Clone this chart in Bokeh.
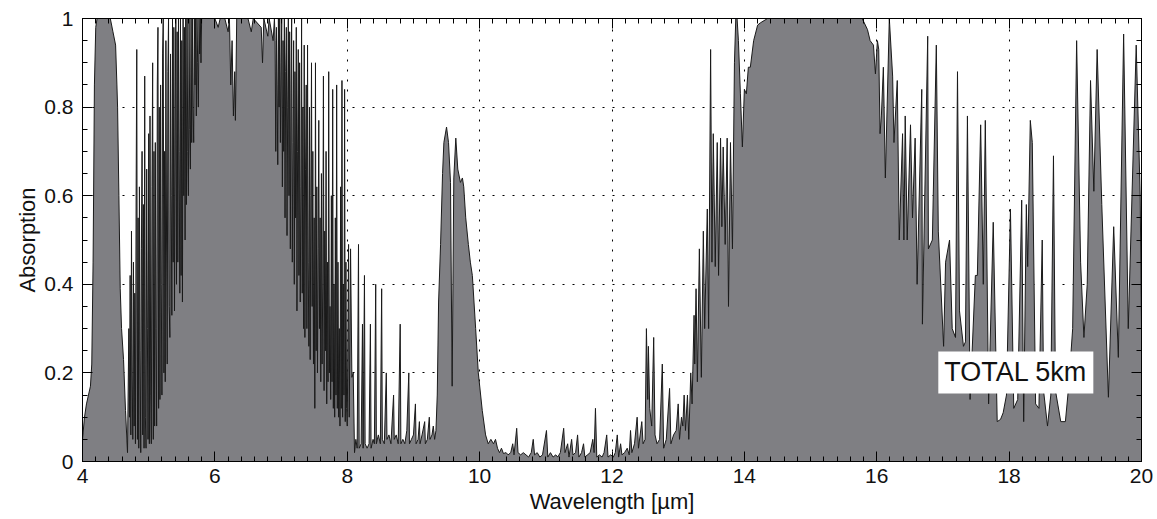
from bokeh.plotting import figure
from bokeh.models import (LinearAxis, Label, Range1d, SingleIntervalTicker,
                          CustomJSTickFormatter, ColumnDataSource)
from bokeh.embed import file_html
from bokeh.resources import INLINE

# ---- data (wavelength in um, absorption 0..1) ----
wl_co2_43 = [4.00, 4.03, 4.06, 4.09, 4.12, 4.14, 4.16, 4.18, 4.20, 4.22, 4.30, 4.40,
             4.42, 4.46, 4.50, 4.52, 4.53, 4.55, 4.57, 4.59, 4.62, 4.65, 4.68]
ab_co2_43 = [0.05, 0.10, 0.13, 0.15, 0.17, 0.22, 0.45, 0.85, 0.98, 1.00, 1.00, 1.00,
             1.00, 0.97, 0.94, 0.85, 0.80, 0.60, 0.39, 0.30, 0.23, 0.115, 0.02]

wl_h2o_a = [4.70, 4.71, 4.72, 4.73, 4.74, 4.75, 4.76, 4.77, 4.78, 4.79,
            4.80, 4.81, 4.82, 4.83, 4.84, 4.85, 4.86, 4.87, 4.88, 4.89,
            4.90, 4.91, 4.92, 4.93, 4.94, 4.95, 4.96, 4.97, 4.98, 4.99,
            5.00, 5.01, 5.02, 5.03, 5.04, 5.05, 5.06, 5.07, 5.08, 5.09,
            5.10, 5.11, 5.12, 5.13, 5.14, 5.15, 5.16, 5.17, 5.18, 5.19,
            5.20, 5.21, 5.22, 5.23, 5.24, 5.25, 5.26, 5.27, 5.28, 5.29,
            5.30, 5.31, 5.32, 5.33, 5.34, 5.35, 5.36, 5.37, 5.38, 5.39,
            5.40, 5.41, 5.42, 5.43, 5.44, 5.45, 5.46, 5.47, 5.48, 5.49,
            5.50, 5.51, 5.52, 5.53, 5.54, 5.55, 5.56, 5.57, 5.58, 5.59,
            5.60, 5.61, 5.62, 5.63, 5.64, 5.65, 5.66, 5.67, 5.68, 5.69,
            5.70, 5.71, 5.72, 5.73, 5.74, 5.75, 5.76, 5.77, 5.78, 5.79, 5.80]
ab_h2o_a = [0.30, 0.10, 0.42, 0.06, 0.52, 0.20, 0.05, 0.45, 0.08, 0.38,
            0.04, 0.60, 0.93, 0.05, 0.55, 0.03, 0.62, 0.25, 0.02, 0.48,
            0.70, 0.06, 0.58, 0.03, 0.87, 0.10, 0.03, 0.66, 0.30, 0.05,
            0.74, 0.04, 0.78, 0.15, 0.04, 0.62, 0.90, 0.05, 0.70, 0.08,
            0.72, 0.30, 0.08, 0.85, 0.98, 0.12, 0.80, 0.14, 0.85, 0.40,
            0.15, 0.92, 1.00, 0.20, 0.70, 0.18, 0.95, 0.50, 0.22, 0.88,
            1.00, 0.35, 0.28, 0.92, 0.60, 0.33, 1.00, 0.45, 0.98, 0.34,
            0.80, 1.00, 0.40, 0.97, 0.45, 1.00, 0.70, 0.38, 1.00, 0.42,
            0.95, 0.36, 1.00, 0.60, 0.98, 0.50, 1.00, 0.58, 1.00, 0.70,
            0.60, 1.00, 0.75, 0.66, 1.00, 0.72, 1.00, 0.80, 0.72, 1.00,
            0.85, 1.00, 0.78, 1.00, 0.90, 0.80, 1.00, 0.92, 1.00, 0.90, 1.00]

wl_h2o_b = [5.85, 6.00, 6.05, 6.08, 6.15, 6.20, 6.22, 6.24, 6.26, 6.28, 6.30, 6.31,
            6.33, 6.50, 6.55, 6.58, 6.70, 6.72, 6.74, 6.80, 6.82, 6.88]
ab_h2o_b = [1.00, 1.00, 0.98, 1.00, 1.00, 0.97, 1.00, 0.85, 0.95, 0.78, 0.88, 0.77,
            1.00, 1.00, 0.97, 1.00, 0.98, 0.90, 1.00, 0.96, 1.00, 0.95]

wl_h2o_c = [6.90, 6.91, 6.92, 6.93, 6.94, 6.95, 6.96, 6.97, 6.98, 6.99,
            7.00, 7.01, 7.02, 7.03, 7.04, 7.05, 7.06, 7.07, 7.08, 7.09,
            7.10, 7.11, 7.12, 7.13, 7.14, 7.15, 7.16, 7.17, 7.18, 7.19,
            7.20, 7.21, 7.22, 7.23, 7.24, 7.25, 7.26, 7.27, 7.28, 7.29,
            7.30, 7.31, 7.32, 7.33, 7.34, 7.35, 7.36, 7.37, 7.38, 7.39,
            7.40, 7.41, 7.42, 7.43, 7.44, 7.45, 7.46, 7.47, 7.48, 7.49,
            7.50, 7.51, 7.52, 7.53, 7.54, 7.55, 7.56, 7.57, 7.58, 7.59,
            7.60, 7.61, 7.62, 7.63, 7.64, 7.65, 7.66, 7.67, 7.68, 7.69,
            7.70, 7.71, 7.72, 7.73, 7.74, 7.75, 7.76, 7.77, 7.78, 7.79,
            7.80, 7.81, 7.82, 7.83, 7.84, 7.85, 7.86, 7.87, 7.88, 7.89,
            7.90, 7.91, 7.92, 7.93, 7.94, 7.95, 7.96, 7.97, 7.98, 7.99, 8.00]
ab_h2o_c = [1.00, 0.95, 0.70, 0.98, 0.85, 0.67, 1.00, 0.80, 1.00, 0.72,
            0.90, 1.00, 0.62, 0.95, 0.70, 1.00, 0.55, 0.88, 0.98, 0.51,
            0.80, 1.00, 0.60, 0.97, 0.48, 0.85, 1.00, 0.45, 0.72, 0.95,
            0.40, 0.88, 0.55, 0.98, 0.34, 0.70, 0.93, 0.42, 0.90, 0.36,
            0.62, 1.00, 0.38, 0.80, 0.30, 0.94, 0.28, 0.66, 0.85, 0.30,
            0.94, 0.45, 0.26, 0.80, 0.23, 0.60, 0.90, 0.35, 0.70, 0.22,
            0.55, 0.12, 0.90, 0.25, 0.62, 0.20, 0.48, 0.77, 0.30, 0.55,
            0.18, 0.65, 0.22, 0.40, 0.87, 0.16, 0.52, 0.25, 0.70, 0.13,
            0.45, 0.18, 0.88, 0.20, 0.35, 0.14, 0.60, 0.18, 0.84, 0.12,
            0.40, 0.10, 0.55, 0.15, 0.85, 0.12, 0.45, 0.10, 0.30, 0.08,
            0.62, 0.12, 0.86, 0.10, 0.40, 0.15, 0.84, 0.09, 0.45, 0.12, 0.08]

wl_window_8 = [8.02, 8.03, 8.05, 8.07, 8.09, 8.11, 8.13, 8.15, 8.17, 8.18, 8.21, 8.23,
               8.24, 8.26, 8.27, 8.30, 8.33, 8.35, 8.36, 8.39, 8.41, 8.43, 8.44, 8.47,
               8.50, 8.52, 8.53, 8.56, 8.59, 8.60, 8.63, 8.66, 8.70, 8.71, 8.74, 8.77,
               8.80, 8.81, 8.84, 8.87, 8.90, 8.93, 8.94, 8.97, 9.00, 9.03, 9.04, 9.07,
               9.09, 9.10, 9.13, 9.17, 9.18, 9.21, 9.24, 9.25, 9.28, 9.30, 9.32]
ab_window_8 = [0.49, 0.10, 0.48, 0.19, 0.20, 0.02, 0.05, 0.03, 0.49, 0.03, 0.04, 0.31,
               0.03, 0.42, 0.04, 0.03, 0.04, 0.31, 0.03, 0.05, 0.04, 0.40, 0.04, 0.06,
               0.04, 0.39, 0.05, 0.04, 0.20, 0.05, 0.06, 0.04, 0.15, 0.05, 0.06, 0.04,
               0.31, 0.04, 0.05, 0.04, 0.07, 0.20, 0.04, 0.05, 0.06, 0.13, 0.04, 0.05,
               0.09, 0.04, 0.06, 0.09, 0.04, 0.05, 0.10, 0.05, 0.06, 0.08, 0.05]

wl_o3_96 = [9.34, 9.36, 9.38, 9.41, 9.44, 9.46, 9.50, 9.53, 9.56, 9.585, 9.61, 9.64,
            9.67, 9.71, 9.74, 9.76, 9.79, 9.83, 9.86, 9.89, 9.94, 9.98, 10.04, 10.09,
            10.13]
ab_o3_96 = [0.07, 0.15, 0.36, 0.49, 0.65, 0.72, 0.755, 0.72, 0.63, 0.17, 0.64, 0.73,
            0.66, 0.63, 0.64, 0.62, 0.55, 0.49, 0.45, 0.42, 0.30, 0.20, 0.115, 0.06,
            0.04]

wl_window_11 = [10.17, 10.21, 10.24, 10.27, 10.30, 10.33, 10.36, 10.40, 10.43, 10.47,
                10.50, 10.52, 10.56, 10.58, 10.62, 10.66, 10.70, 10.74, 10.78, 10.81,
                10.83, 10.87, 10.91, 10.95, 11.01, 11.03, 11.07, 11.11, 11.15, 11.18,
                11.22, 11.27, 11.29, 11.33, 11.35, 11.39, 11.41, 11.45, 11.48, 11.50,
                11.54, 11.57, 11.59, 11.63, 11.67, 11.71, 11.73, 11.75, 11.77, 11.81,
                11.85, 11.88, 11.92, 11.94, 11.98, 12.02, 12.05, 12.08, 12.10, 12.13,
                12.15, 12.19, 12.23, 12.26, 12.28, 12.30, 12.34, 12.38, 12.40, 12.45,
                12.47, 12.50, 12.52, 12.54, 12.55, 12.57, 12.60, 12.63, 12.65, 12.68,
                12.72, 12.76, 12.78, 12.82, 12.87, 12.89, 12.93, 12.97]
ab_window_11 = [0.05, 0.04, 0.05, 0.03, 0.02, 0.03, 0.018, 0.02, 0.015, 0.02,
                0.04, 0.015, 0.075, 0.02, 0.015, 0.02, 0.015, 0.01, 0.02, 0.05,
                0.015, 0.02, 0.01, 0.015, 0.07, 0.01, 0.02, 0.01, 0.015, 0.01,
                0.02, 0.075, 0.02, 0.04, 0.01, 0.05, 0.015, 0.02, 0.06, 0.01,
                0.02, 0.04, 0.01, 0.015, 0.02, 0.05, 0.02, 0.12, 0.01, 0.015,
                0.01, 0.02, 0.06, 0.01, 0.015, 0.01, 0.02, 0.06, 0.01, 0.04,
                0.015, 0.02, 0.03, 0.015, 0.07, 0.02, 0.04, 0.10, 0.03, 0.09,
                0.04, 0.05, 0.30, 0.14, 0.26, 0.12, 0.08, 0.28, 0.06, 0.04,
                0.05, 0.22, 0.03, 0.05, 0.165, 0.04, 0.06, 0.07]

wl_co2_15 = [13.00, 13.02, 13.05, 13.07, 13.09, 13.11, 13.14, 13.16, 13.19, 13.21,
             13.24, 13.25, 13.27, 13.29, 13.32, 13.35, 13.38, 13.40, 13.44, 13.46,
             13.49, 13.51, 13.53, 13.56, 13.59, 13.61, 13.64, 13.66, 13.68, 13.71,
             13.74, 13.76, 13.79, 13.82, 13.85, 13.87, 13.89, 13.91, 13.94, 13.97,
             14.00, 14.03, 14.06, 14.09, 14.14, 14.20, 14.24, 14.35, 15.78, 15.86,
             15.90, 15.95, 15.98, 16.01, 16.03, 16.05, 16.07, 16.10, 16.13, 16.19,
             16.24, 16.26, 16.31, 16.34, 16.39, 16.41, 16.43, 16.46, 16.51, 16.54,
             16.58, 16.61, 16.68, 16.69, 16.77, 16.78, 16.84, 16.90, 16.93]
ab_co2_15 = [0.13, 0.05, 0.10, 0.08, 0.15, 0.07, 0.15, 0.05, 0.20, 0.13,
             0.33, 0.22, 0.39, 0.18, 0.48, 0.19, 0.52, 0.30, 0.57, 0.30,
             0.93, 0.45, 0.74, 0.44, 0.72, 0.42, 0.73, 0.53, 0.71, 0.49,
             0.73, 0.35, 0.72, 0.48, 0.90, 1.00, 1.00, 0.95, 0.83, 0.71,
             0.84, 0.83, 0.89, 0.89, 0.95, 0.985, 0.99, 1.00, 1.00, 0.975,
             0.95, 0.94, 0.875, 0.95, 0.93, 0.74, 0.78, 0.89, 0.64, 1.00,
             0.87, 0.72, 0.86, 0.50, 0.74, 0.50, 0.78, 0.50, 0.76, 0.55,
             0.73, 0.40, 0.84, 0.31, 0.96, 0.48, 0.50, 0.94, 0.52]

wl_h2o_rot = [17.01, 17.04, 17.10, 17.14, 17.19, 17.22, 17.25, 17.31, 17.34, 17.37,
              17.41, 17.49, 17.52, 17.57, 17.61, 17.64, 17.69, 17.76, 17.82, 17.87,
              17.91, 17.96, 18.02, 18.07, 18.13, 18.19, 18.22, 18.26, 18.28, 18.32,
              18.35, 18.40, 18.45, 18.50, 18.52, 18.58, 18.63, 18.67, 18.70, 18.78,
              18.85, 18.90, 18.96, 19.02, 19.08, 19.13, 19.18, 19.23, 19.28, 19.33,
              19.40, 19.50, 19.58, 19.65, 19.73, 19.80, 19.92, 19.98, 20.00]
ab_h2o_rot = [0.26, 0.45, 0.50, 0.30, 0.28, 0.88, 0.34, 0.26, 0.27, 0.78,
              0.14, 0.42, 0.42, 0.76, 0.40, 0.77, 0.13, 0.54, 0.09, 0.095,
              0.11, 0.15, 0.57, 0.12, 0.14, 0.59, 0.09, 0.58, 0.44, 0.77,
              0.72, 0.13, 0.12, 0.50, 0.16, 0.08, 0.15, 0.69, 0.16, 0.09,
              0.09, 0.17, 0.30, 0.95, 0.45, 0.28, 0.40, 0.86, 0.61, 0.93,
              0.58, 0.145, 0.53, 0.235, 0.965, 0.30, 0.94, 0.60, 0.30]

x_ticks_interval = 2
y_ticks_interval = 0.2

wavelength = (wl_co2_43 + wl_h2o_a + wl_h2o_b + wl_h2o_c + wl_window_8 + wl_o3_96
              + wl_window_11 + wl_co2_15 + wl_h2o_rot)
absorption = (ab_co2_43 + ab_h2o_a + ab_h2o_b + ab_h2o_c + ab_window_8 + ab_o3_96
              + ab_window_11 + ab_co2_15 + ab_h2o_rot)
src = ColumnDataSource(dict(x=wavelength, y=absorption, y0=[0.0] * len(wavelength)))

FONT = "Liberation Sans"

p = figure(width=1157, height=519, x_range=Range1d(4, 20), y_range=Range1d(0, 1),
           output_backend="svg", toolbar_location=None,
           min_border_left=82, min_border_right=16, min_border_top=18,
           min_border_bottom=58, background_fill_color="white",
           border_fill_color="white", outline_line_color="black")

p.varea(x="x", y1="y0", y2="y", source=src, fill_color="#7f7f83")
p.line(x="x", y="y", source=src, line_color="#1a1a1a", line_width=1)

xt = SingleIntervalTicker(interval=x_ticks_interval, num_minor_ticks=10)
yt = SingleIntervalTicker(interval=y_ticks_interval, num_minor_ticks=4)
yfmt = CustomJSTickFormatter(code="return tick.toFixed(1).replace(/\\.0$/, '');")
blank = CustomJSTickFormatter(code="return '';")


def style(ax):
    ax.axis_line_color = "black"
    ax.major_tick_line_color = "black"
    ax.minor_tick_line_color = "black"
    ax.major_tick_in = 10
    ax.major_tick_out = 0
    ax.minor_tick_in = 5
    ax.minor_tick_out = 0
    ax.major_label_text_font = FONT
    ax.major_label_text_font_size = "21px"
    ax.major_label_text_color = "#111111"
    ax.axis_label_text_font = FONT
    ax.axis_label_text_font_size = "22px"
    ax.axis_label_text_font_style = "normal"
    ax.axis_label_text_color = "#111111"


xa = p.xaxis[0]
xa.ticker = xt
xa.axis_label = "Wavelength [µm]"
style(xa)
xa.major_label_standoff = 7
xa.axis_label_standoff = 3

ya = p.yaxis[0]
ya.ticker = yt
ya.formatter = yfmt
ya.axis_label = "Absorption"
style(ya)
ya.major_label_standoff = 9
ya.axis_label_standoff = 1

top = LinearAxis(ticker=SingleIntervalTicker(interval=x_ticks_interval, num_minor_ticks=10),
                 formatter=blank)
style(top)
top.major_label_standoff = 0
p.add_layout(top, "above")
right = LinearAxis(ticker=SingleIntervalTicker(interval=y_ticks_interval, num_minor_ticks=4),
                   formatter=blank)
style(right)
right.major_label_standoff = 0
p.add_layout(right, "right")

for g in (p.xgrid[0], p.ygrid[0]):
    g.grid_line_color = "black"
    g.grid_line_dash = "2 8"
    g.grid_line_width = 1
p.xgrid[0].ticker = xt
p.ygrid[0].ticker = yt

lab = Label(x=16.93, y=0.1535, x_units="data", y_units="data", text="TOTAL 5km",
            text_font=FONT, text_font_size="27px", text_color="#111111",
            text_align="left", text_baseline="bottom",
            background_fill_color="white", border_line_color=None, padding=6)
p.add_layout(lab)

open("out.html", "w").write(file_html(p, INLINE))
